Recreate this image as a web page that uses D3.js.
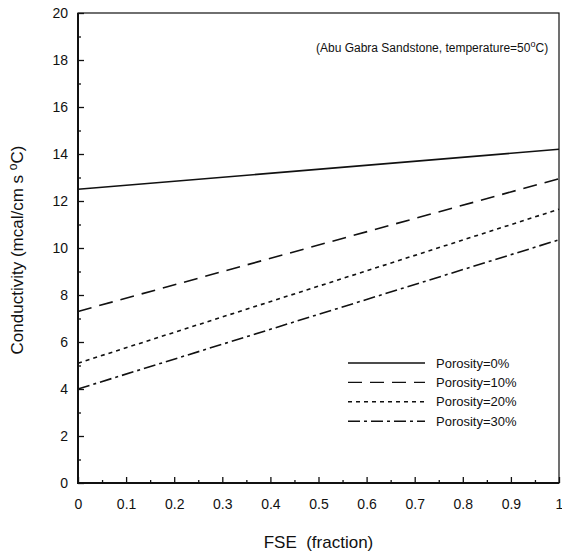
<!DOCTYPE html>
<html>
<head>
<meta charset="utf-8">
<script src="https://cdn.jsdelivr.net/npm/d3@7"></script>
<style>
  body { margin: 0; background: #fff; }
  text { font-family: "Liberation Sans", Arial, sans-serif; fill: #111; }
</style>
</head>
<body>
<div id="chart"></div>
<script>
// data (straight lines, FSE 0 -> 1)
var fse = [0, 1]
var porosity0 = [12.5, 14.2]
var porosity10 = [7.3, 12.95]
var porosity20 = [5.1, 11.65]
var porosity30 = [4.0, 10.35]
var seriesNames = ["Porosity=0%", "Porosity=10%", "Porosity=20%", "Porosity=30%"]
var xTicks = [0, 0.1, 0.2, 0.3, 0.4, 0.5, 0.6, 0.7, 0.8, 0.9, 1]
var yTicks = [0, 2, 4, 6, 8, 10, 12, 14, 16, 18, 20]

var series = [porosity0, porosity10, porosity20, porosity30]
var dashes = ["none", "14,8", "4,4", "12,4,3,4"]

const margin = { top: 13, right: 3, bottom: 71, left: 78 },
    width = 562 - margin.left - margin.right,
    height = 554 - margin.top - margin.bottom;

const svg = d3.select("#chart")
    .append("svg")
    .attr("width", 562)
    .attr("height", 554)
    .append("g")
    .attr("transform", `translate(${margin.left},${margin.top})`);

const x = d3.scaleLinear().domain([0, 1]).range([0, width])
const y = d3.scaleLinear().domain([0, 20]).range([height, 0])

// minor ticks
svg.append("g")
    .attr("transform", `translate(0,${height})`)
    .call(d3.axisBottom(x).tickValues(d3.range(0.05, 1, 0.1)).tickSize(-3).tickFormat(""))
svg.append("g")
    .call(d3.axisLeft(y).tickValues(d3.range(1, 20, 2)).tickSize(-3).tickFormat(""))

// major ticks + labels
svg.append("g")
    .attr("transform", `translate(0,${height})`)
    .call(d3.axisBottom(x).tickValues(xTicks).tickSize(-6).tickPadding(16)
        .tickFormat(function (d) { return d3.format("")(+d.toFixed(1)) }))
svg.append("g")
    .call(d3.axisLeft(y).tickValues(yTicks).tickSize(-6).tickPadding(10))

svg.selectAll(".domain").remove()
svg.selectAll(".tick line").attr("stroke", "#111").attr("stroke-width", 1.3)
svg.selectAll(".tick text").style("font-size", "14px").attr("fill", "#111")

// frame
svg.append("rect")
    .attr("width", width).attr("height", height)
    .attr("fill", "none").attr("stroke", "#111").attr("stroke-width", 1.2)
svg.append("path")
    .attr("d", `M0,0V${height}H${width}`)
    .attr("fill", "none").attr("stroke", "#111").attr("stroke-width", 2)

// lines
const line = d3.line()
    .x(function (d, i) { return x(fse[i]) })
    .y(function (d) { return y(d) })

svg.selectAll(".series")
    .data(series)
    .enter()
    .append("path")
    .attr("class", "series")
    .attr("d", line)
    .attr("fill", "none")
    .attr("stroke", "#111")
    .attr("stroke-width", 1.6)
    .attr("stroke-dasharray", function (d, i) { return dashes[i] })

// legend
const legend = svg.append("g").attr("transform", "translate(270,350)")
seriesNames.forEach(function (name, i) {
    legend.append("line")
        .attr("x1", 0).attr("x2", 77)
        .attr("y1", i * 19.4).attr("y2", i * 19.4)
        .attr("stroke", "#111").attr("stroke-width", 1.4)
        .attr("stroke-dasharray", dashes[i])
    legend.append("text")
        .attr("x", 88).attr("y", i * 19.4)
        .attr("dy", "0.35em")
        .style("font-size", "13px")
        .text(name)
})

// annotation
const note = svg.append("text")
    .attr("x", 238).attr("y", 39)
    .style("font-size", "12px")
note.append("tspan").text("(Abu Gabra Sandstone, temperature=50")
note.append("tspan").attr("dy", -5).style("font-size", "9px").text("o")
note.append("tspan").attr("dy", 5).text("C)")

// axis titles
svg.append("text")
    .attr("x", width / 2).attr("y", height + 65)
    .attr("text-anchor", "middle")
    .style("font-size", "17px")
    .attr("xml:space", "preserve")
    .text("FSE  (fraction)")

const yl = svg.append("text")
    .attr("transform", `translate(${-55},${250 - margin.top}) rotate(-90)`)
    .attr("text-anchor", "middle")
    .style("font-size", "17px")
yl.append("tspan").text("Conductivity (mcal/cm s ")
yl.append("tspan").attr("dy", -6).style("font-size", "12px").text("o")
yl.append("tspan").attr("dy", 6).text("C)")
</script>
</body>
</html>
